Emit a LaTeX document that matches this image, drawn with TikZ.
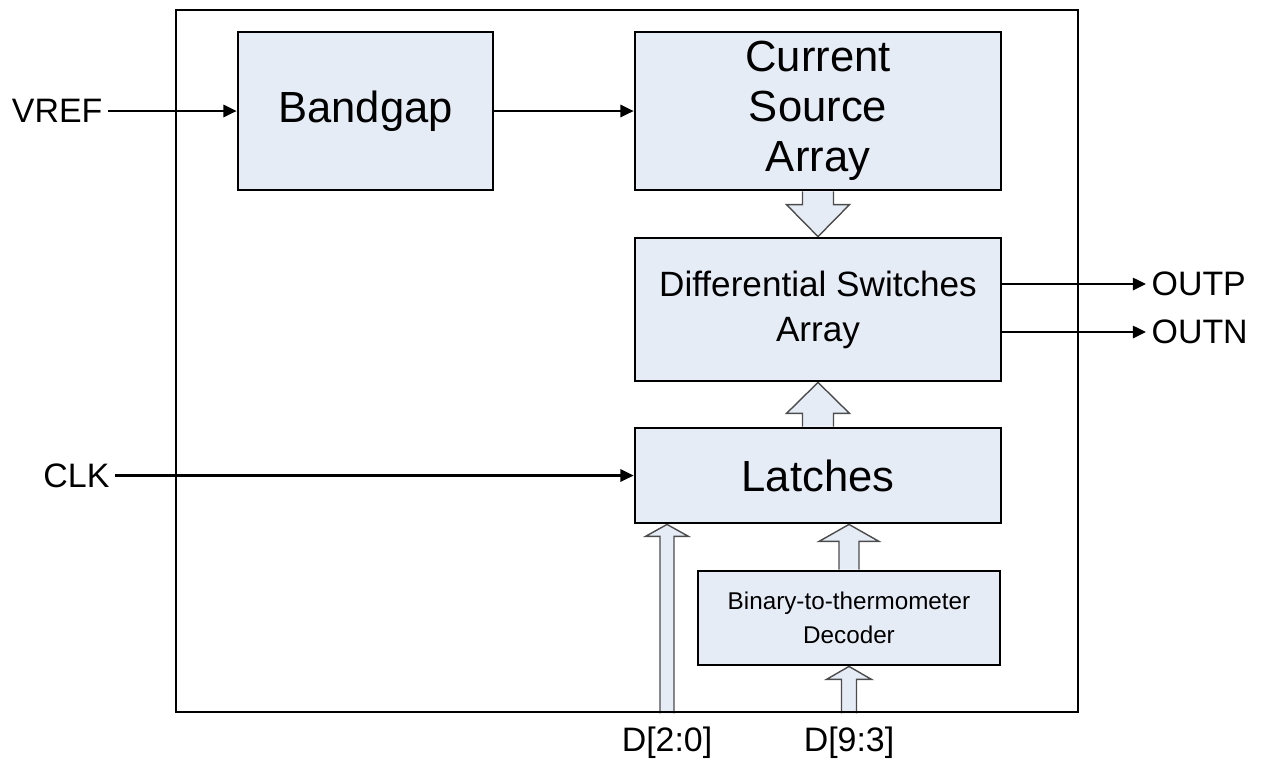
\documentclass[tikz,border=0pt]{standalone}
\usepackage{fontspec}
\setmainfont{Liberation Sans}
\usetikzlibrary{arrows.meta,calc,backgrounds}

\definecolor{blockfill}{RGB}{230,236,246}

% hollow bus arrow: start, end, half shaft, half head, head length
\newcommand{\busarrow}[5]{%
  \draw[bus] ($#1!#3!90:#2$) -- ($#2!#5!#1!#3!-90:#1$) -- ($#2!#5!#1!#4!-90:#1$) -- #2
    -- ($#2!#5!#1!#4!90:#1$) -- ($#2!#5!#1!#3!90:#1$) -- ($#1!#3!-90:#2$);
}

\begin{document}
\begin{tikzpicture}[x=0.02cm, y=-0.02cm,
    block/.style={draw, line width=1.6pt, fill=blockfill, inner sep=0pt, align=center},
    sig/.style={inner sep=3pt, font=\fontsize{19.3}{23}\selectfont},
    wire/.style={line width=1.2pt, -{Triangle[length=7.5pt,width=7pt]}},
    bus/.style={draw=black!70, line width=0.8pt, fill=blockfill}]

    \useasboundingbox (0,0) rectangle (1266,762);

    \node[draw, line width=1.5pt, minimum width=18.04cm, minimum height=14.04cm] (chip) at (627,361) {};

    \node[block, minimum width=5.1cm, minimum height=3.16cm, font=\fontsize{24.8}{28.4}\selectfont] (bg) at (365.5,111) {Bandgap};
    \node[block, minimum width=7.32cm, minimum height=3.16cm, font=\fontsize{24.8}{28.4}\selectfont] (csa) at (818,111) {Current\\Source\\Array};
    \node[block, minimum width=7.32cm, minimum height=2.86cm, font=\fontsize{20}{25.5}\selectfont] (dsa) at (818,309.5) {Differential Switches\\Array};
    \node[block, minimum width=7.32cm, minimum height=1.9cm, font=\fontsize{24.8}{28.4}\selectfont] (lat) at (818,475.5) {Latches};
    \node[block, minimum width=6.04cm, minimum height=1.88cm, font=\fontsize{13.8}{19.5}\selectfont] (dec) at (849,618) {Binary-to-thermometer\\Decoder};

    \node[sig, anchor=east] (vref) at (108,111) {VREF};
    \node[sig, anchor=east] (clk) at (115,475.5) {CLK};
    \node[sig, anchor=west] (outp) at (1146,284) {OUTP};
    \node[sig, anchor=west] (outn) at (1146,332) {OUTN};
    \node[sig] (d20) at (667,743) {D[2:0]};
    \node[sig] (d93) at (849,743) {D[9:3]};

    \draw[wire] (vref.east) -- (bg.west);
    \draw[wire] (bg.east) -- (csa.west);
    \draw[wire] (clk.east) -- (lat.west);
    \draw[wire] (outp.west -| dsa.east) -- (outp.west);
    \draw[wire] (outn.west -| dsa.east) -- (outn.west);

    \coordinate (decin) at (dec.north |- lat.south);
    \coordinate (d20bot) at (d20 |- chip.south);
    \coordinate (d20top) at (d20 |- lat.south);
    \coordinate (d93bot) at (d93 |- chip.south);

    \begin{scope}[on background layer]
        \busarrow{(csa.south)}{(dsa.north)}{0.31cm}{0.63cm}{0.64cm}
        \busarrow{(lat.north)}{(dsa.south)}{0.31cm}{0.63cm}{0.62cm}
        \busarrow{(dec.north)}{(decin)}{0.2cm}{0.6cm}{0.34cm}
        \busarrow{(d20bot)}{(d20top)}{0.14cm}{0.43cm}{0.24cm}
        \busarrow{(d93bot)}{(dec.south)}{0.15cm}{0.45cm}{0.26cm}
    \end{scope}
\end{tikzpicture}
\end{document}
